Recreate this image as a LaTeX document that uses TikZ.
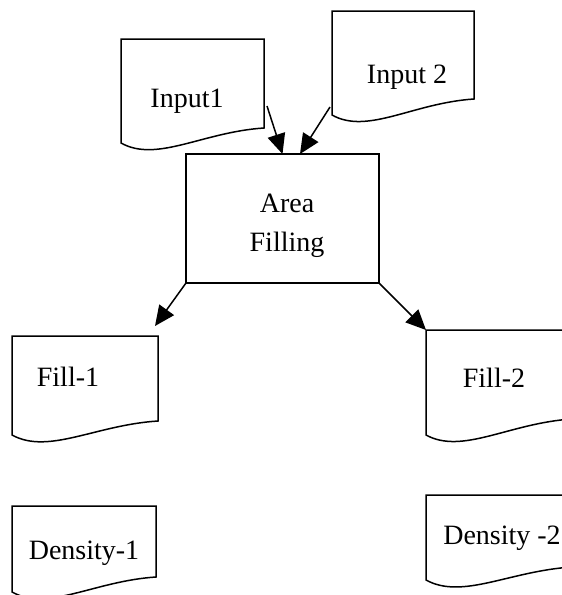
\documentclass[tikz,border=0pt]{standalone}
\usepackage{fontspec}
\setmainfont{Liberation Serif}
\usetikzlibrary{calc,arrows.meta}
\tikzset{
  docbox/.style={rectangle, draw=none, inner sep=0pt, outer sep=0pt, anchor=north west},
  docline/.style={draw=black, line width=1.5pt, line join=miter},
  procbox/.style={rectangle, draw=black, line width=1.5pt, inner sep=0pt, outer sep=0pt, anchor=north west},
  lbl/.style={anchor=base, inner sep=0pt, font=\fontsize{28}{32}\selectfont},
  flow/.style={draw=black, line width=1.5pt, -{Triangle[length=20pt,width=18pt]}, shorten >=0pt}
}
\newcommand\docoutline[2]{%
  \draw[docline] (#1.south east)
    .. controls ($(#1.south west)!0.57!(#1.south east)+(0,4)$)
           and ($(#1.south west)!0.25!(#1.south east)+(0,#2+20)$)
    .. ($(#1.south west)+(0,#2)$) -- (#1.north west) -- (#1.north east) -- cycle;}
\begin{document}
\begin{tikzpicture}[x=1pt,y=-1pt]
\fill[white] (0,0) rectangle (562,595);
\useasboundingbox (0,0) rectangle (562,595);
% document shapes
\node[docbox, minimum width=143pt, minimum height=89pt] (in1) at (121,39) {};
\node[docbox, minimum width=142pt, minimum height=88pt] (in2) at (332,11) {};
\node[docbox, minimum width=146pt, minimum height=85pt] (fill1) at (12,336) {};
\node[docbox, minimum width=146pt, minimum height=89pt] (fill2) at (426,330) {};
\node[docbox, minimum width=144pt, minimum height=71pt] (dens1) at (12,506) {};
\node[docbox, minimum width=146pt, minimum height=72pt] (dens2) at (426,495) {};
\docoutline{in1}{15}
\docoutline{in2}{16}
\docoutline{fill1}{14}
\docoutline{fill2}{16}
\docoutline{dens1}{15}
\docoutline{dens2}{13}
% process box
\node[procbox, minimum width=193pt, minimum height=129pt] (area) at (186,154) {};
% labels
\node[lbl] (in1t) at (187,107) {Input1};
\node[lbl] (in2t) at (407,83) {Input 2};
\node[lbl] (areat1) at (287,212) {Area};
\node[lbl] (areat2) at (287,251) {Filling};
\node[lbl] (fill1t) at (68,386) {Fill-1};
\node[lbl] (fill2t) at (494,387) {Fill-2};
\node[lbl] (dens1t) at (84,559) {Density-1};
\node[lbl] (dens2t) at (502,544) {Density -2};
% connectors
\draw[flow] ($(in1.south east)+(3,-22)$) -- (area.north);
\draw[flow] ($(in2.south west)+(-2,8)$) -- ($(area.north)+(17.5,0)$);
\draw[flow] (area.south west) -- ($(fill1.north east)+(-3,-10)$);
\draw[flow] (area.south east) -- (fill2.north west);
\end{tikzpicture}
\end{document}
